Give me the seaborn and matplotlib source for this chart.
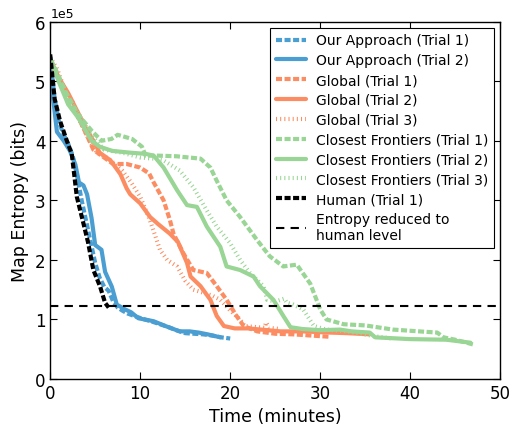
import matplotlib
import pandas as pd
import seaborn as sns

matplotlib.use("Agg")
import matplotlib.pyplot as plt

# values in units of 1e5 bits, time in minutes
our_t1_x = [0, 0.5, 1, 1.5, 2, 2.5, 3, 3.5, 4, 4.5, 5, 5.5, 6, 6.5, 7, 7.5, 8, 8.6, 9.5, 10.5, 11.2, 12, 13, 14, 15, 16, 17, 18, 19, 20]
our_t1_y = [5.4, 4.7, 4.3, 4.1, 3.95, 3.75, 3.4, 3.0, 2.65, 2.3, 1.95, 1.7, 1.55, 1.48, 1.3, 1.2, 1.15, 1.1, 1.05, 1.0, 0.97, 0.93, 0.88, 0.82, 0.77, 0.76, 0.75, 0.73, 0.7, 0.68]

our_t2_x = [0, 0.3, 0.75, 1.5, 2.2, 2.8, 3.2, 3.7, 4.1, 4.6, 5.0, 5.7, 6.1, 6.85, 7.4, 8.3, 9.0, 9.8, 10.5, 11.5, 12.8, 14.4, 15.5, 16.5, 17.5, 18.9]
our_t2_y = [5.4, 4.75, 4.15, 4.0, 3.83, 3.6, 3.3, 3.25, 3.1, 2.7, 2.25, 2.17, 1.8, 1.55, 1.25, 1.17, 1.12, 1.02, 1.0, 0.97, 0.89, 0.8, 0.8, 0.78, 0.75, 0.7]

global_t1_x = [0, 1, 1.7, 3.1, 4.2, 4.8, 5.7, 7, 8.5, 10, 11.0, 11.5, 12.6, 13.3, 13.7, 14.8, 15.9, 17.4, 18.5, 19.6, 20.7, 21.5, 23, 25, 27, 29, 31]
global_t1_y = [5.35, 5.0, 4.8, 4.4, 4.05, 3.85, 3.75, 3.61, 3.61, 3.55, 3.45, 3.3, 3.0, 2.67, 2.44, 2.11, 1.83, 1.78, 1.56, 1.33, 1.06, 0.89, 0.8, 0.76, 0.75, 0.73, 0.71]

global_t2_x = [0, 1, 2, 3, 4, 4.8, 5.5, 6.7, 7.8, 8.5, 8.9, 10, 11.1, 12, 13.3, 14.2, 15.2, 15.6, 16.7, 17.8, 18.5, 19.3, 20.5, 22, 25.6, 28, 31, 33, 35.5]
global_t2_y = [5.35, 5.05, 4.8, 4.5, 4.2, 4.0, 3.8, 3.67, 3.44, 3.2, 3.1, 2.95, 2.72, 2.6, 2.44, 2.3, 1.95, 1.72, 1.56, 1.33, 1.06, 0.89, 0.85, 0.85, 0.8, 0.8, 0.78, 0.77, 0.75]

global_t3_x = [0, 0.8, 1.67, 2.5, 3.1, 4.2, 5.2, 6.5, 8, 9, 10, 11, 12.2, 13, 14.1, 15, 15.9, 17, 18, 18.9, 20, 21.1, 21.6, 23, 23.8, 24, 24.3, 25.5]
global_t3_y = [5.4, 5.2, 4.83, 4.65, 4.39, 4.05, 3.8, 3.7, 3.5, 3.3, 3.06, 2.7, 2.17, 2.0, 1.89, 1.65, 1.5, 1.45, 1.4, 1.33, 1.15, 1.0, 0.89, 0.87, 0.86, 0.95, 0.86, 0.84]

cf_t1_x = [0, 0.6, 1.7, 3.1, 4.6, 5.7, 6.8, 7.5, 9.1, 10.2, 10.6, 12, 14, 16.7, 17.8, 18.5, 19.6, 21.1, 23, 24.4, 25.9, 27.4, 28.9, 30, 30.7, 32.6, 35, 38.1, 41, 43, 43.7, 45, 47]
cf_t1_y = [5.35, 5.2, 4.83, 4.44, 4.17, 4.0, 4.03, 4.1, 4.03, 3.9, 3.75, 3.75, 3.74, 3.7, 3.55, 3.33, 3.0, 2.72, 2.33, 2.06, 1.89, 1.92, 1.6, 1.17, 1.0, 0.92, 0.9, 0.83, 0.8, 0.78, 0.7, 0.66, 0.58]

cf_t2_x = [0, 0.2, 0.93, 2.0, 3.1, 4.6, 5.5, 6.9, 8.9, 10.6, 11.5, 12.6, 14.1, 15.2, 16.3, 17.4, 18.9, 19.6, 21.1, 22.6, 23.3, 24.8, 25.9, 26.7, 28, 30, 32.2, 33.5, 35.5, 36.1, 40, 44, 46.7]
cf_t2_y = [5.35, 5.33, 5.0, 4.61, 4.39, 4.0, 3.9, 3.83, 3.8, 3.78, 3.75, 3.55, 3.17, 2.92, 2.89, 2.56, 2.22, 1.89, 1.83, 1.72, 1.56, 1.33, 1.06, 0.87, 0.84, 0.82, 0.83, 0.8, 0.78, 0.7, 0.67, 0.66, 0.61]

cf_t3_x = [0, 0.8, 2, 3, 4.5, 6, 8, 10, 11.5, 12.6, 14.4, 15.9, 17.4, 18.5, 20, 21.1, 22.2, 23.7, 24.1, 25, 26, 26.3, 27, 28.1, 29.3, 30.7, 33, 36, 38]
cf_t3_y = [5.35, 5.1, 4.7, 4.5, 4.1, 3.85, 3.8, 3.72, 3.7, 3.67, 3.5, 3.22, 2.83, 2.56, 2.28, 2.0, 1.78, 1.56, 1.33, 1.3, 1.35, 1.28, 1.25, 1.17, 0.89, 0.83, 0.8, 0.72, 0.68]

human_t1_x = [0, 0.5, 1.1, 1.85, 2.4, 2.96, 3.7, 4.2, 4.8, 5.55, 6.1, 6.5]
human_t1_y = [5.45, 4.7, 4.33, 4.0, 3.78, 3.06, 2.61, 2.3, 1.83, 1.55, 1.28, 1.2]

human_level = 1.22

BLUE = "#4b9ed1"
ORANGE = "#fc8d62"
GREEN = "#99d594"
DASHED = (0, (1.45, 0.6))
DOTTED = (0, (0.25, 0.75))

series = [
    ("Our Approach (Trial 1)", our_t1_x, our_t1_y, BLUE, DASHED),
    ("Our Approach (Trial 2)", our_t2_x, our_t2_y, BLUE, "-"),
    ("Global (Trial 1)", global_t1_x, global_t1_y, ORANGE, DASHED),
    ("Global (Trial 2)", global_t2_x, global_t2_y, ORANGE, "-"),
    ("Global (Trial 3)", global_t3_x, global_t3_y, ORANGE, DOTTED),
    ("Closest Frontiers (Trial 1)", cf_t1_x, cf_t1_y, GREEN, DASHED),
    ("Closest Frontiers (Trial 2)", cf_t2_x, cf_t2_y, GREEN, "-"),
    ("Closest Frontiers (Trial 3)", cf_t3_x, cf_t3_y, GREEN, DOTTED),
    ("Human (Trial 1)", human_t1_x, human_t1_y, "black", DASHED),
]

sns.set_style("white", {
    "xtick.direction": "in", "ytick.direction": "in",
    "xtick.top": True, "ytick.right": True,
    "xtick.bottom": True, "ytick.left": True,
    "axes.edgecolor": "black",
    "axes.labelcolor": "black",
    "text.color": "black",
    "xtick.color": "black", "ytick.color": "black",
})
plt.rcParams["font.family"] = ["DejaVu Sans"]

fig, ax = plt.subplots(figsize=(5.12, 4.27), dpi=100)
fig.subplots_adjust(left=0.098, right=0.977, top=0.947, bottom=0.11)

for label, xs, ys, color, ls in series:
    df = pd.DataFrame({"t": xs, "h": [v * 1e5 for v in ys]})
    sns.lineplot(data=df, x="t", y="h", color=color, lw=3, linestyle=ls,
                 label=label, ax=ax, sort=False)

ax.axhline(human_level * 1e5, color="black", lw=1.5, linestyle=(0, (4, 3)),
           label="Entropy reduced to\nhuman level")

ax.set_xlim(0, 50)
ax.set_ylim(0, 6e5)
ax.ticklabel_format(axis="y", style="sci", scilimits=(0, 0))
ax.yaxis.get_offset_text().set_fontsize(9)
ax.tick_params(labelsize=12, length=5, width=0.8, colors="black")
ax.set_xlabel("Time (minutes)", fontsize=12.5)
ax.set_ylabel("Map Entropy (bits)", fontsize=12.5)
for s in ax.spines.values():
    s.set_linewidth(1)

leg = ax.legend(loc="upper right", fontsize=10, fancybox=False, framealpha=1,
                edgecolor="black", handlelength=2.15, handletextpad=0.75,
                labelspacing=0.42, borderaxespad=0.45)
leg.get_frame().set_linewidth(0.8)

fig.savefig("out.png", dpi=100)
plt.close()
